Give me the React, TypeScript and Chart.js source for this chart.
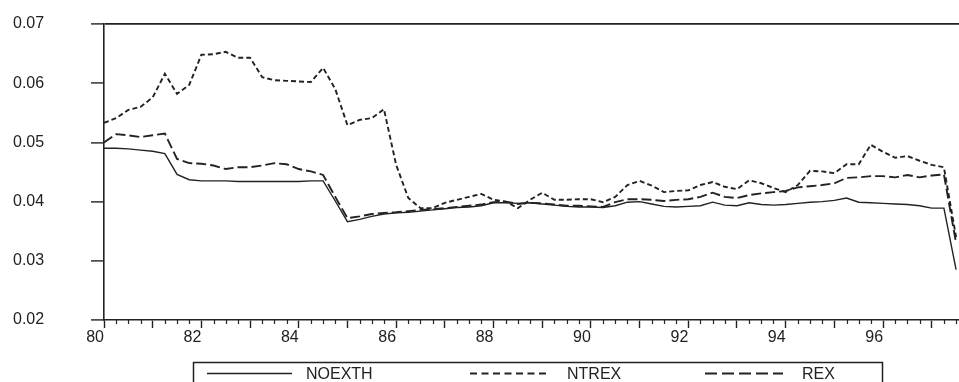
import React, { useEffect, useRef } from "react";
import { Chart, registerables } from "chart.js";

Chart.register(...registerables);

// Quarterly observations 80Q1 .. 97Q3
const quarters: number[] = Array.from({ length: 71 }, (_, i) => 80 + i / 4);

const noexth: number[] = [
  0.0490, 0.0490, 0.0489, 0.0487, 0.0485, 0.0481, 0.0446, 0.0437,
  0.0435, 0.0435, 0.0435, 0.0434, 0.0434, 0.0434, 0.0434, 0.0434,
  0.0434, 0.0435, 0.0435, 0.0401, 0.0366, 0.0370, 0.0375, 0.0379,
  0.0381, 0.0382, 0.0384, 0.0386, 0.0388, 0.0390, 0.0391, 0.0393,
  0.0398, 0.0398, 0.0397, 0.0398, 0.0396, 0.0394, 0.0392, 0.0391,
  0.0391, 0.0390, 0.0393, 0.0399, 0.0400, 0.0396, 0.0392, 0.0391,
  0.0392, 0.0393, 0.0399, 0.0394, 0.0393, 0.0398, 0.0395, 0.0394,
  0.0395, 0.0397, 0.0399, 0.0400, 0.0402, 0.0406, 0.0399, 0.0398,
  0.0397, 0.0396, 0.0395, 0.0393, 0.0389, 0.0389, 0.0285,
];

const ntrex: number[] = [
  0.0533, 0.0541, 0.0555, 0.0560, 0.0576, 0.0616, 0.0582, 0.0597,
  0.0648, 0.0649, 0.0653, 0.0643, 0.0643, 0.0610, 0.0605, 0.0604,
  0.0603, 0.0602, 0.0626, 0.0590, 0.0529, 0.0538, 0.0541, 0.0556,
  0.0462, 0.0406, 0.0389, 0.0389, 0.0398, 0.0403, 0.0408, 0.0413,
  0.0403, 0.0400, 0.0389, 0.0403, 0.0415, 0.0403, 0.0403, 0.0404,
  0.0404, 0.0399, 0.0408, 0.0428, 0.0435, 0.0427, 0.0416, 0.0418,
  0.0419, 0.0428, 0.0433, 0.0425, 0.0421, 0.0436, 0.0431, 0.0423,
  0.0416, 0.0428, 0.0452, 0.0451, 0.0448, 0.0463, 0.0463, 0.0496,
  0.0484, 0.0474, 0.0477, 0.0469, 0.0462, 0.0458, 0.0340,
];

const rex: number[] = [
  0.0500, 0.0514, 0.0512, 0.0509, 0.0512, 0.0515, 0.0472, 0.0465,
  0.0464, 0.0461, 0.0455, 0.0458, 0.0458, 0.0461, 0.0465, 0.0463,
  0.0455, 0.0451, 0.0445, 0.0408, 0.0372, 0.0375, 0.0379, 0.0381,
  0.0382, 0.0384, 0.0386, 0.0387, 0.0389, 0.0391, 0.0393, 0.0395,
  0.0399, 0.0400, 0.0396, 0.0398, 0.0397, 0.0395, 0.0393, 0.0393,
  0.0392, 0.0391, 0.0399, 0.0404, 0.0404, 0.0403, 0.0401, 0.0403,
  0.0404, 0.0408, 0.0415, 0.0408, 0.0406, 0.0411, 0.0414, 0.0416,
  0.0418, 0.0424, 0.0426, 0.0428, 0.0431, 0.0440, 0.0441, 0.0443,
  0.0443, 0.0441, 0.0445, 0.0441, 0.0444, 0.0446, 0.0330,
];

const xTickLabels: number[] = [80, 82, 84, 86, 88, 90, 92, 94, 96];
const yTicks: number[] = [0.02, 0.03, 0.04, 0.05, 0.06, 0.07];
const seriesNames: string[] = ["NOEXTH", "NTREX", "REX"];

const INK = "#222";
const FONT = "'Liberation Sans', Arial, Helvetica, sans-serif";

const DASHES: number[][] = [[], [5, 3], [10, 4]];
const LEGEND_DASHES: number[][] = [[], [7, 4.5], [12, 5]];

const legendPlugin = {
  id: "boxLegend",
  afterDraw(chart: any) {
    const ctx = chart.ctx as CanvasRenderingContext2D;
    ctx.save();
    ctx.strokeStyle = INK;
    ctx.lineWidth = 1.5;
    ctx.strokeRect(193.5, 362.5, 689, 40);
    const items = [
      { x0: 207, x1: 292, tx: 306 },
      { x0: 470, x1: 550, tx: 567 },
      { x0: 705, x1: 783, tx: 802 },
    ];
    const y = 373.5;
    items.forEach((it, i) => {
      ctx.beginPath();
      ctx.setLineDash(LEGEND_DASHES[i]);
      ctx.lineWidth = i === 0 ? 1.3 : 1.8;
      ctx.moveTo(it.x0, y);
      ctx.lineTo(it.x1, y);
      ctx.stroke();
      ctx.setLineDash([]);
      ctx.fillStyle = INK;
      ctx.font = `16px ${FONT}`;
      ctx.textBaseline = "middle";
      ctx.textAlign = "left";
      ctx.fillText(seriesNames[i], it.tx, y + 1);
    });
    ctx.restore();
  },
};

const minorTicksPlugin = {
  id: "minorTicks",
  afterDraw(ch: any) {
    const xs = ch.scales.x;
    const ctx = ch.ctx as CanvasRenderingContext2D;
    ctx.save();
    ctx.strokeStyle = INK;
    ctx.lineWidth = 1.2;
    quarters.forEach((q) => {
      if (Number.isInteger(q)) return;
      const px = Math.round(xs.getPixelForValue(q)) + 0.5;
      ctx.beginPath();
      ctx.moveTo(px, xs.top);
      ctx.lineTo(px, xs.top + 4);
      ctx.stroke();
    });
    ctx.restore();
  },
};

export default function App() {
  const canvasRef = useRef<HTMLCanvasElement | null>(null);

  useEffect(() => {
    if (!canvasRef.current) return;
    const series = [noexth, ntrex, rex];
    const chart = new Chart(canvasRef.current, {
      type: "line",
      data: {
        datasets: series.map((vals, si) => ({
          label: seriesNames[si],
          data: quarters.map((q, i) => ({ x: q, y: vals[i] })),
          borderColor: INK,
          borderWidth: si === 0 ? 1.4 : 1.9,
          borderDash: DASHES[si],
          pointRadius: 0,
          tension: 0,
          fill: false,
        })),
      },
      options: {
        animation: false,
        responsive: false,
        layout: { padding: { top: 24, left: 13, right: 0, bottom: 0 } },
        plugins: {
          legend: { display: false },
          tooltip: { enabled: false },
        },
        scales: {
          x: {
            type: "linear",
            min: 80,
            max: 97.56,
            afterBuildTicks: (s: any) => {
              s.ticks = quarters.map((v) => ({ value: v }));
            },
            afterFit: (s: any) => {
              s.height = 62;
            },
            ticks: {
              autoSkip: false,
              maxRotation: 0,
              minRotation: 0,
              align: "end",
              padding: 0,
              color: INK,
              font: { family: FONT, size: 16 },
              callback: (v: any) => (xTickLabels.includes(Number(v)) ? String(v) : ""),
            },
            grid: {
              drawOnChartArea: false,
              drawTicks: true,
              tickLength: 8,
              tickWidth: 1.4,
              tickColor: (c: any) =>
                c.tick && Number.isInteger(c.tick.value) ? INK : "rgba(0,0,0,0)",
            },
            border: { display: true, color: INK, width: 1.6 },
          },
          y: {
            min: 0.02,
            max: 0.07,
            afterBuildTicks: (s: any) => {
              s.ticks = yTicks.map((v) => ({ value: v }));
            },
            afterFit: (s: any) => {
              s.width = 91;
            },
            ticks: {
              padding: 0,
              crossAlign: "far",
              color: INK,
              font: { family: FONT, size: 16 },
              callback: (v: any) => Number(v).toFixed(2),
            },
            grid: {
              drawOnChartArea: true,
              color: (c: any) =>
                c.tick && Math.abs(c.tick.value - 0.07) < 1e-9 ? INK : "rgba(0,0,0,0)",
              lineWidth: 1.8,
              tickLength: 13,
              tickColor: INK,
              tickWidth: 1.4,
            },
            border: { display: true, color: INK, width: 1.6 },
          },
        },
      },
      plugins: [legendPlugin, minorTicksPlugin],
    } as any);
    return () => chart.destroy();
  }, []);

  return (
    <div style={{ position: "absolute", left: 0, top: 0, width: 959, height: 382, background: "#fff", overflow: "hidden" }}>
      <canvas ref={canvasRef} width={959} height={382} style={{ display: "block" }} />
    </div>
  );
}
